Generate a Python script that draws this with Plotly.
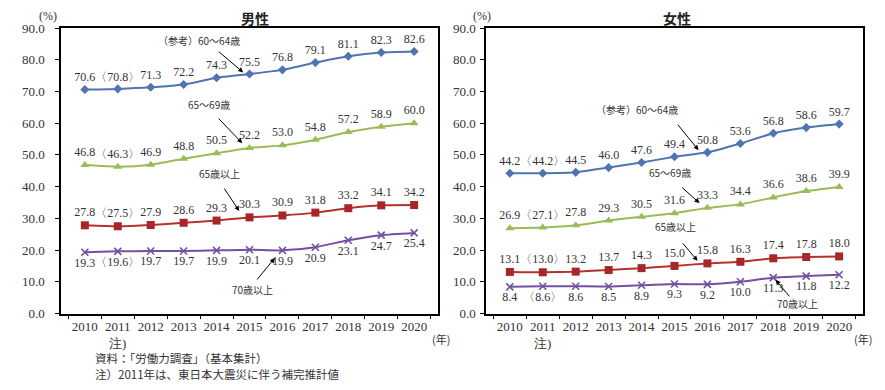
import plotly.graph_objects as go

years = [str(y) for y in range(2010, 2021)]
tick_text = ["2010", "2011<br>注)", "2012", "2013", "2014", "2015", "2016", "2017", "2018", "2019", "2020"]

men_60_64 = [70.6, 70.8, 71.3, 72.2, 74.3, 75.5, 76.8, 79.1, 81.1, 82.3, 82.6]
men_65_69 = [46.8, 46.3, 46.9, 48.8, 50.5, 52.2, 53.0, 54.8, 57.2, 58.9, 60.0]
men_65_up = [27.8, 27.5, 27.9, 28.6, 29.3, 30.3, 30.9, 31.8, 33.2, 34.1, 34.2]
men_70_up = [19.3, 19.6, 19.7, 19.7, 19.9, 20.1, 19.9, 20.9, 23.1, 24.7, 25.4]

women_60_64 = [44.2, 44.2, 44.5, 46.0, 47.6, 49.4, 50.8, 53.6, 56.8, 58.6, 59.7]
women_65_69 = [26.9, 27.1, 27.8, 29.3, 30.5, 31.6, 33.3, 34.4, 36.6, 38.6, 39.9]
women_65_up = [13.1, 13.0, 13.2, 13.7, 14.3, 15.0, 15.8, 16.3, 17.4, 17.8, 18.0]
women_70_up = [8.4, 8.6, 8.6, 8.5, 8.9, 9.3, 9.2, 10.0, 11.3, 11.8, 12.2]

series_names = ["（参考）60～64歳", "65～69歳", "65歳以上", "70歳以上"]

BLUE = "#4F74B0"
GREEN = "#9BBB59"
RED_LINE = "#B5312E"
RED_MK = "#A6262A"
PURPLE = "#7351A0"

NUM_FONT = "Liberation Serif, DejaVu Serif, serif"
JP_FONT = "Noto Sans CJK JP, Noto Sans, sans-serif"

# page body has an 8px default margin: size figure so it fits the 885x390 window
OFF = 8
W, H = 885 - 2 * OFF, 390 - 2 * OFF


def X(xp):
    return (xp - OFF) / W


def Y(yp):
    return 1 - (yp - OFF) / H


def labels(vals):
    out = []
    for i, v in enumerate(vals):
        s = f"{v:.1f}"
        if i == 1:
            s = "〈" + s + "〉"
        out.append(s)
    return out


styles = [
    dict(color=BLUE, mcolor=BLUE, symbol="diamond", size=7, pos="top center"),
    dict(color=GREEN, mcolor=GREEN, symbol="triangle-up", size=8, pos="top center"),
    dict(color=RED_LINE, mcolor=RED_MK, symbol="square", size=8, pos="top center"),
    dict(color=PURPLE, mcolor=PURPLE, symbol="x-thin", size=7, pos="bottom center"),
]

fig = go.Figure()

for col, data in ((1, [men_60_64, men_65_69, men_65_up, men_70_up]),
                  (2, [women_60_64, women_65_69, women_65_up, women_70_up])):
    xa = "x" if col == 1 else "x2"
    ya = "y" if col == 1 else "y2"
    for name, vals, st in zip(series_names, data, styles):
        mk = dict(color=st["mcolor"], symbol=st["symbol"], size=st["size"])
        if st["symbol"] == "x-thin":
            mk["line"] = dict(color=st["mcolor"], width=1.6)
        fig.add_trace(go.Scatter(
            x=years, y=vals, name=name, xaxis=xa, yaxis=ya,
            mode="lines+markers+text",
            line=dict(color=st["color"], width=2, shape="spline", smoothing=0.5),
            marker=mk,
            text=labels(vals), textposition=st["pos"],
            textfont=dict(family=NUM_FONT, size=12, color="#333333"),
            cliponaxis=False, showlegend=False,
        ))

yticks = [i * 10 for i in range(10)]
axis_common = dict(showgrid=False, zeroline=False, showline=True, linecolor="black",
                   linewidth=1.5, mirror=True, ticks="outside", ticklen=4,
                   tickcolor="black", automargin=False,
                   tickfont=dict(family=NUM_FONT, size=13, color="#333333"))

ydom = [Y(313.5), Y(28)]
fig.update_layout(
    template="none",
    width=W, height=H,
    margin=dict(l=0, r=0, t=0, b=0),
    paper_bgcolor="white", plot_bgcolor="white",
    xaxis=dict(domain=[X(61), X(438)], type="category", tickson="boundaries",
               tickvals=years, ticktext=tick_text, tickangle=0, anchor="y", **axis_common),
    yaxis=dict(domain=ydom, range=[0, 90], tickvals=yticks, ticklabelstandoff=8,
               tickformat=".1f", anchor="x", **axis_common),
    xaxis2=dict(domain=[X(486), X(863)], type="category", tickson="boundaries",
                tickvals=years, ticktext=tick_text, tickangle=0, anchor="y2", **axis_common),
    yaxis2=dict(domain=ydom, range=[0, 90], tickvals=yticks, ticklabelstandoff=2,
                tickformat=".1f", anchor="x2", **axis_common),
)

ann = []

for xp, t in ((255, "<b>男性</b>"), (677, "<b>女性</b>")):
    ann.append(dict(text=t, x=X(xp), y=Y(18), xref="paper", yref="paper", showarrow=False,
                    font=dict(family=JP_FONT, size=14, color="#222"),
                    xanchor="center", yanchor="middle"))

for xp in (48, 482):
    ann.append(dict(text="(%)", x=X(xp), y=Y(16), xref="paper", yref="paper", showarrow=False,
                    font=dict(family=NUM_FONT, size=12, color="#333"),
                    xanchor="center", yanchor="middle"))
for xp in (441, 863):
    ann.append(dict(text="(年)", x=X(xp), y=Y(339), xref="paper", yref="paper", showarrow=False,
                    font=dict(family=JP_FONT, size=11, color="#333"),
                    xanchor="center", yanchor="middle"))

for yp, t in ((358, "資料：「労働力調査」（基本集計）"),
              (374, "注）2011年は、東日本大震災に伴う補完推計値")):
    ann.append(dict(text=t, x=X(93), y=Y(yp), xref="paper", yref="paper", showarrow=False,
                    font=dict(family=JP_FONT, size=11.5, color="#333"),
                    xanchor="left", yanchor="middle"))

# series name labels (x as category index, y in data units)
name_pos = {
    "x": [(3.47, 86.2), (3.76, 66.0), (4.08, 44.2), (5.10, 7.7)],
    "x2": [(3.87, 64.2), (4.86, 44.6), (5.03, 27.3), (8.73, 3.0)],
}
for xr, poss in name_pos.items():
    yr = "y" if xr == "x" else "y2"
    for name, (xi, yv) in zip(series_names, poss):
        ann.append(dict(text=name, x=xi, y=yv, xref=xr, yref=yr, showarrow=False,
                        font=dict(family=JP_FONT, size=10, color="#333"),
                        xanchor="center", yanchor="middle"))

# arrows: head (category index, value), tail offset px
arrows = {
    "x": [(4.81, 76.0, -26, -22), (4.78, 53.7, -25, -26), (4.69, 32.3, -16, -24), (5.77, 17.5, -19, 23)],
    "x2": [(5.73, 51.5, -22, -27), (5.76, 34.8, -19, -17), (5.70, 16.6, -16, -19), (8.07, 10.6, 15, 18)],
}
for xr, lst in arrows.items():
    yr = "y" if xr == "x" else "y2"
    for xi, yv, axp, ayp in lst:
        ann.append(dict(text="", x=xi, y=yv, xref=xr, yref=yr, showarrow=True,
                        ax=axp, ay=ayp, arrowhead=2, arrowsize=1, arrowwidth=1,
                        arrowcolor="black", standoff=0))

fig.update_layout(annotations=ann)

fig.write_html("out.html")
